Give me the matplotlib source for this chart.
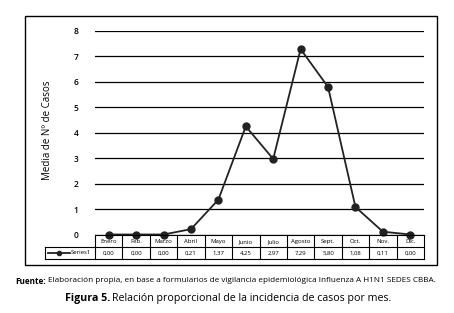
import matplotlib
matplotlib.use("Agg")
import matplotlib.pyplot as plt
from matplotlib.lines import Line2D
from matplotlib.patches import Rectangle

months = ["Enero", "Feb.", "Marzo", "Abril", "Mayo", "Junio", "Julio",
          "Agosto", "Sept.", "Oct.", "Nov.", "Dic."]
values = [0.00, 0.00, 0.00, 0.21, 1.37, 4.25, 2.97, 7.29, 5.80, 1.08, 0.11, 0.00]
value_labels = ["0,00", "0,00", "0,00", "0,21", "1,37", "4,25", "2,97",
                "7,29", "5,80", "1,08", "0,11", "0,00"]
series_name = "Series1"
y_ticks = [0, 1, 2, 3, 4, 5, 6, 7, 8]

plt.rcParams['font.family'] = ['Open Sans', 'DejaVu Sans']

W, H = 454, 313
fig = plt.figure(figsize=(W / 100, H / 100), dpi=100)

def fx(px):
    return px / W

def fy(py):
    return 1 - py / H

# outer frame
fig.add_artist(Rectangle((fx(25), fy(264.5)), fx(436.5) - fx(25), fy(16.5) - fy(264.5),
                         transform=fig.transFigure, fill=False, lw=1.0, ec="black"))

left, right, top, bottom = 95, 424, 31, 234.5
ax = fig.add_axes([fx(left), fy(bottom), fx(right) - fx(left), fy(top) - fy(bottom)])
ax.set_xlim(-0.5, len(months) - 0.5)
ax.set_ylim(0, 8)
for s in ax.spines.values():
    s.set_visible(False)
ax.set_xticks([])
ax.set_yticks(y_ticks)
ax.tick_params(axis="y", length=0, labelsize=6, pad=12)
for lab in ax.get_yticklabels():
    lab.set_fontweight("semibold")
ax.yaxis.grid(True, color="black", lw=0.9)
ax.set_axisbelow(True)
ax.plot(range(len(months)), values, color="#222222", lw=1.3, marker="o",
        markersize=5, clip_on=False, zorder=3)
fig.text(fx(47), fy(130), "Media de Nº de Casos", rotation=90, ha="center",
         va="center", fontsize=7)

# data table
row1_top, row_mid, row_bot = 234.5, 247, 259
col_w = (right - left) / len(months)
lw = 0.8
fig.add_artist(Line2D([fx(left), fx(right)], [fy(row1_top)] * 2, transform=fig.transFigure, lw=lw, color="black"))
fig.add_artist(Line2D([fx(45), fx(right)], [fy(row_mid)] * 2, transform=fig.transFigure, lw=lw, color="black"))
fig.add_artist(Line2D([fx(45), fx(right)], [fy(row_bot)] * 2, transform=fig.transFigure, lw=lw, color="black"))
fig.add_artist(Line2D([fx(45), fx(45)], [fy(row_mid), fy(row_bot)], transform=fig.transFigure, lw=lw, color="black"))
for i in range(len(months) + 1):
    x = left + i * col_w
    fig.add_artist(Line2D([fx(x), fx(x)], [fy(row1_top), fy(row_bot)], transform=fig.transFigure, lw=lw, color="black"))
for i, (m, v) in enumerate(zip(months, value_labels)):
    cx = left + (i + 0.5) * col_w
    fig.text(fx(cx), fy((row1_top + row_mid) / 2 + 0.8), m, ha="center", va="center", fontsize=4.3)
    fig.text(fx(cx), fy((row_mid + row_bot) / 2), v, ha="center", va="center", fontsize=4.3)
# legend key
ym = fy((row_mid + row_bot) / 2)
fig.add_artist(Line2D([fx(48), fx(70)], [ym, ym], transform=fig.transFigure, lw=1.3, color="#222222"))
fig.add_artist(Line2D([fx(59)], [ym], transform=fig.transFigure, marker="o", markersize=3, color="#222222"))
fig.text(fx(71), ym, series_name, ha="left", va="center", fontsize=4.3)

# captions
renderer = fig.canvas.get_renderer()

def caption(x0, y, bold, rest, size):
    t1 = fig.text(fx(x0), fy(y), bold, ha="left", va="center", fontsize=size, fontweight="bold")
    bb = t1.get_window_extent(renderer)
    fig.text(bb.x1 / W + fx(2), fy(y), rest, ha="left", va="center", fontsize=size)

caption(15, 281, "Fuente:", "Elaboración propia, en base a formularios de vigilancia epidemiológica Influenza A H1N1 SEDES CBBA.", 5.9)
caption(65, 298.5, "Figura 5.", "Relación proporcional de la incidencia de casos por mes.", 7.7)

fig.savefig("out.png", dpi=100)
